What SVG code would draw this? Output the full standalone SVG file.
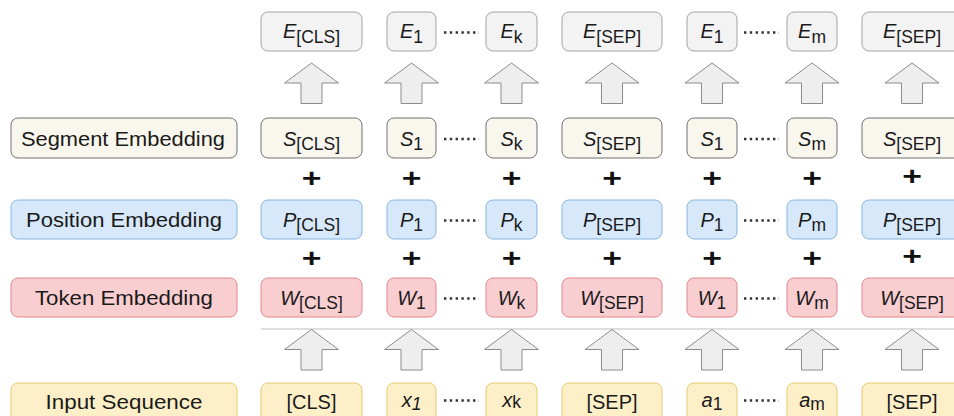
<svg xmlns="http://www.w3.org/2000/svg" xmlns:xlink="http://www.w3.org/1999/xlink" width="954" height="416" viewBox="0 0 954 416">
<defs>
<style>
text{font-family:"Liberation Sans",Arial,sans-serif;fill:#1a1a1a}
.lbl{font-size:20.5px;text-anchor:middle}
.tk{font-size:20px;text-anchor:middle}
.it{font-style:italic}
.sub{font-size:17.5px;font-style:normal}
.plus{font-size:25px;font-weight:bold;text-anchor:middle;fill:#111}
.E rect{fill:#f3f3f3;stroke:#a3a3a3;stroke-width:1}
.S rect{fill:#f9f6ee;stroke:#707070;stroke-width:1}
.P rect{fill:#d6e8f9;stroke:#86b4e0;stroke-width:1}
.W rect{fill:#f9ced1;stroke:#e3868c;stroke-width:1}
.I rect{fill:#fdf0c8;stroke:#e8c870;stroke-width:1}
.dots{stroke:#333;stroke-width:2.4;stroke-dasharray:2.4 3.4}
.arrow{fill:#eeeeee;stroke:#8c8c8c;stroke-width:1}
.sep{stroke:#bdbdbd;stroke-width:1.2}
</style>
<path id="arr" d="M0,0 L27,20 L10.5,20 L10.5,40.5 L-10.5,40.5 L-10.5,20 L-27,20 Z"/>
</defs>

<!-- Row labels -->
<g id="label-segment" class="S"><rect x="11" y="118" width="226" height="40" rx="7"/><text class="lbl" x="123" y="146" textLength="204" lengthAdjust="spacingAndGlyphs">Segment Embedding</text></g>
<g id="label-position" class="P"><rect x="11" y="200" width="226" height="39" rx="7"/><text class="lbl" x="124" y="226.5" textLength="196" lengthAdjust="spacingAndGlyphs">Position Embedding</text></g>
<g id="label-token" class="W"><rect x="11" y="278" width="226" height="39" rx="7"/><text class="lbl" x="124" y="304.5" textLength="178" lengthAdjust="spacingAndGlyphs">Token Embedding</text></g>
<g id="label-input" class="I"><rect x="11" y="383" width="226" height="42" rx="7"/><text class="lbl" x="124" y="409" textLength="157" lengthAdjust="spacingAndGlyphs">Input Sequence</text></g>

<!-- E row -->
<g id="E-cls" class="E"><rect x="261" y="12" width="101" height="39" rx="7"/><text class="tk" x="311.5" y="38"><tspan class="it">E</tspan><tspan class="sub" dy="4.5">[CLS]</tspan></text></g>
<g id="E-1a" class="E"><rect x="387" y="12" width="49" height="39" rx="7"/><text class="tk" x="411.5" y="38"><tspan class="it">E</tspan><tspan class="sub" dy="4.5">1</tspan></text></g>
<g id="E-k" class="E"><rect x="486" y="12" width="51" height="39" rx="7"/><text class="tk" x="511.5" y="38"><tspan class="it">E</tspan><tspan class="sub" dy="4.5">k</tspan></text></g>
<g id="E-sep1" class="E"><rect x="562" y="12" width="100" height="39" rx="7"/><text class="tk" x="612" y="38"><tspan class="it">E</tspan><tspan class="sub" dy="4.5">[SEP]</tspan></text></g>
<g id="E-1b" class="E"><rect x="687" y="12" width="50" height="39" rx="7"/><text class="tk" x="712" y="38"><tspan class="it">E</tspan><tspan class="sub" dy="4.5">1</tspan></text></g>
<g id="E-m" class="E"><rect x="787" y="12" width="50" height="39" rx="7"/><text class="tk" x="812" y="38"><tspan class="it">E</tspan><tspan class="sub" dy="4.5">m</tspan></text></g>
<g id="E-sep2" class="E"><rect x="862" y="12" width="100" height="39" rx="7"/><text class="tk" x="912" y="38"><tspan class="it">E</tspan><tspan class="sub" dy="4.5">[SEP]</tspan></text></g>

<!-- S row -->
<g id="S-cls" class="S"><rect x="261" y="118" width="101" height="40" rx="7"/><text class="tk" x="311.5" y="145.5"><tspan class="it">S</tspan><tspan class="sub" dy="4">[CLS]</tspan></text></g>
<g id="S-1a" class="S"><rect x="387" y="118" width="49" height="40" rx="7"/><text class="tk" x="411.5" y="145.5"><tspan class="it">S</tspan><tspan class="sub" dy="4">1</tspan></text></g>
<g id="S-k" class="S"><rect x="486" y="118" width="51" height="40" rx="7"/><text class="tk" x="511.5" y="145.5"><tspan class="it">S</tspan><tspan class="sub" dy="4">k</tspan></text></g>
<g id="S-sep1" class="S"><rect x="562" y="118" width="100" height="40" rx="7"/><text class="tk" x="612" y="145.5"><tspan class="it">S</tspan><tspan class="sub" dy="4">[SEP]</tspan></text></g>
<g id="S-1b" class="S"><rect x="687" y="118" width="50" height="40" rx="7"/><text class="tk" x="712" y="145.5"><tspan class="it">S</tspan><tspan class="sub" dy="4">1</tspan></text></g>
<g id="S-m" class="S"><rect x="787" y="118" width="50" height="40" rx="7"/><text class="tk" x="812" y="145.5"><tspan class="it">S</tspan><tspan class="sub" dy="4">m</tspan></text></g>
<g id="S-sep2" class="S"><rect x="862" y="118" width="100" height="40" rx="7"/><text class="tk" x="912" y="145.5"><tspan class="it">S</tspan><tspan class="sub" dy="4">[SEP]</tspan></text></g>

<!-- P row -->
<g id="P-cls" class="P"><rect x="261" y="200" width="101" height="39" rx="7"/><text class="tk" x="311.5" y="226.5"><tspan class="it">P</tspan><tspan class="sub" dy="4">[CLS]</tspan></text></g>
<g id="P-1a" class="P"><rect x="387" y="200" width="49" height="39" rx="7"/><text class="tk" x="411.5" y="226.5"><tspan class="it">P</tspan><tspan class="sub" dy="4">1</tspan></text></g>
<g id="P-k" class="P"><rect x="486" y="200" width="51" height="39" rx="7"/><text class="tk" x="511.5" y="226.5"><tspan class="it">P</tspan><tspan class="sub" dy="4">k</tspan></text></g>
<g id="P-sep1" class="P"><rect x="562" y="200" width="100" height="39" rx="7"/><text class="tk" x="612" y="226.5"><tspan class="it">P</tspan><tspan class="sub" dy="4">[SEP]</tspan></text></g>
<g id="P-1b" class="P"><rect x="687" y="200" width="50" height="39" rx="7"/><text class="tk" x="712" y="226.5"><tspan class="it">P</tspan><tspan class="sub" dy="4">1</tspan></text></g>
<g id="P-m" class="P"><rect x="787" y="200" width="50" height="39" rx="7"/><text class="tk" x="812" y="226.5"><tspan class="it">P</tspan><tspan class="sub" dy="4">m</tspan></text></g>
<g id="P-sep2" class="P"><rect x="862" y="200" width="100" height="39" rx="7"/><text class="tk" x="912" y="226.5"><tspan class="it">P</tspan><tspan class="sub" dy="4">[SEP]</tspan></text></g>

<!-- W row -->
<g id="W-cls" class="W"><rect x="261" y="278" width="101" height="39" rx="7"/><text class="tk" x="311.5" y="304.5"><tspan class="it">W</tspan><tspan class="sub" dy="4">[CLS]</tspan></text></g>
<g id="W-1a" class="W"><rect x="387" y="278" width="49" height="39" rx="7"/><text class="tk" x="411.5" y="304.5"><tspan class="it">W</tspan><tspan class="sub" dy="4">1</tspan></text></g>
<g id="W-k" class="W"><rect x="486" y="278" width="51" height="39" rx="7"/><text class="tk" x="511.5" y="304.5"><tspan class="it">W</tspan><tspan class="sub" dy="4">k</tspan></text></g>
<g id="W-sep1" class="W"><rect x="562" y="278" width="100" height="39" rx="7"/><text class="tk" x="612" y="304.5"><tspan class="it">W</tspan><tspan class="sub" dy="4">[SEP]</tspan></text></g>
<g id="W-1b" class="W"><rect x="687" y="278" width="50" height="39" rx="7"/><text class="tk" x="712" y="304.5"><tspan class="it">W</tspan><tspan class="sub" dy="4">1</tspan></text></g>
<g id="W-m" class="W"><rect x="787" y="278" width="50" height="39" rx="7"/><text class="tk" x="812" y="304.5"><tspan class="it">W</tspan><tspan class="sub" dy="4">m</tspan></text></g>
<g id="W-sep2" class="W"><rect x="862" y="278" width="100" height="39" rx="7"/><text class="tk" x="912" y="304.5"><tspan class="it">W</tspan><tspan class="sub" dy="4">[SEP]</tspan></text></g>

<!-- Input row -->
<g id="I-cls" class="I"><rect x="261" y="383" width="101" height="42" rx="7"/><text class="tk" x="311.5" y="408.5">[CLS]</text></g>
<g id="I-x1" class="I"><rect x="387" y="383" width="49" height="42" rx="7"/><text class="tk" x="411.5" y="407"><tspan class="it">x</tspan><tspan class="sub" dy="3" style="font-style:italic">1</tspan></text></g>
<g id="I-xk" class="I"><rect x="486" y="383" width="51" height="42" rx="7"/><text class="tk" x="511.5" y="407"><tspan class="it">x</tspan><tspan class="sub" dy="1">k</tspan></text></g>
<g id="I-sep1" class="I"><rect x="562" y="383" width="100" height="42" rx="7"/><text class="tk" x="612" y="408.5">[SEP]</text></g>
<g id="I-a1" class="I"><rect x="687" y="383" width="50" height="42" rx="7"/><text class="tk" x="712" y="407"><tspan class="it">a</tspan><tspan class="sub" dy="3">1</tspan></text></g>
<g id="I-am" class="I"><rect x="787" y="383" width="50" height="42" rx="7"/><text class="tk" x="812" y="407"><tspan class="it">a</tspan><tspan class="sub" dy="3">m</tspan></text></g>
<g id="I-sep2" class="I"><rect x="862" y="383" width="100" height="42" rx="7"/><text class="tk" x="912" y="408.5">[SEP]</text></g>

<!-- connectors: arrows, plus signs, dots, separator -->
<g id="connectors">
<line class="sep" x1="261" y1="329" x2="954" y2="329"/>
<use href="#arr" class="arrow" transform="translate(311.5,63)"/>
<use href="#arr" class="arrow" transform="translate(411.5,63)"/>
<use href="#arr" class="arrow" transform="translate(511.5,63)"/>
<use href="#arr" class="arrow" transform="translate(612,63)"/>
<use href="#arr" class="arrow" transform="translate(712,63)"/>
<use href="#arr" class="arrow" transform="translate(812,63)"/>
<use href="#arr" class="arrow" transform="translate(912,63)"/>
<use href="#arr" class="arrow" transform="translate(311.5,329.5)"/>
<use href="#arr" class="arrow" transform="translate(411.5,329.5)"/>
<use href="#arr" class="arrow" transform="translate(511.5,329.5)"/>
<use href="#arr" class="arrow" transform="translate(612,329.5)"/>
<use href="#arr" class="arrow" transform="translate(712,329.5)"/>
<use href="#arr" class="arrow" transform="translate(812,329.5)"/>
<use href="#arr" class="arrow" transform="translate(912,329.5)"/>

<line class="dots" x1="444" y1="32.5" x2="479" y2="32.5"/>
<line class="dots" x1="744" y1="32.5" x2="779" y2="32.5"/>
<line class="dots" x1="444" y1="139" x2="479" y2="139"/>
<line class="dots" x1="744" y1="139" x2="779" y2="139"/>
<line class="dots" x1="444" y1="220.5" x2="479" y2="220.5"/>
<line class="dots" x1="744" y1="220.5" x2="779" y2="220.5"/>
<line class="dots" x1="444" y1="298.5" x2="479" y2="298.5"/>
<line class="dots" x1="744" y1="298.5" x2="779" y2="298.5"/>
<line class="dots" x1="444" y1="400.5" x2="479" y2="400.5"/>
<line class="dots" x1="744" y1="400.5" x2="779" y2="400.5"/>

<text class="plus" transform="translate(311.5,187) scale(1.35,1)">+</text>
<text class="plus" transform="translate(411.5,187) scale(1.35,1)">+</text>
<text class="plus" transform="translate(511.5,187) scale(1.35,1)">+</text>
<text class="plus" transform="translate(612,187) scale(1.35,1)">+</text>
<text class="plus" transform="translate(712,187) scale(1.35,1)">+</text>
<text class="plus" transform="translate(812,187) scale(1.35,1)">+</text>
<text class="plus" transform="translate(912,185) scale(1.35,1)">+</text>
<text class="plus" transform="translate(311.5,266.5) scale(1.35,1)">+</text>
<text class="plus" transform="translate(411.5,266.5) scale(1.35,1)">+</text>
<text class="plus" transform="translate(511.5,266.5) scale(1.35,1)">+</text>
<text class="plus" transform="translate(612,266.5) scale(1.35,1)">+</text>
<text class="plus" transform="translate(712,266.5) scale(1.35,1)">+</text>
<text class="plus" transform="translate(812,266.5) scale(1.35,1)">+</text>
<text class="plus" transform="translate(912,264.5) scale(1.35,1)">+</text>
</g>
</svg>
